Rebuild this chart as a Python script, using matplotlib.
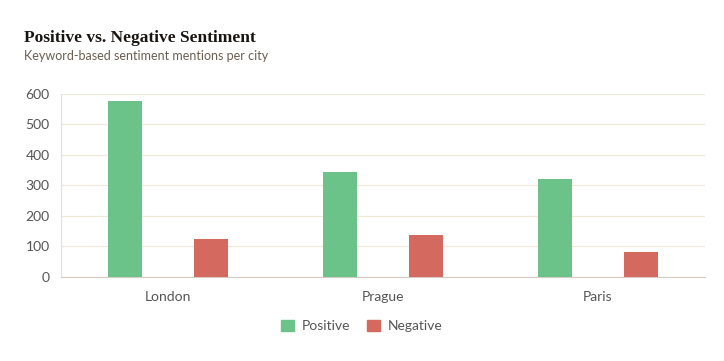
import numpy as np
import matplotlib.pyplot as plt
from matplotlib.patches import Patch

# Datos del gráfico
ciudades = ["London", "Prague", "Paris"]
positivos = [575, 345, 322]
negativos = [123, 138, 82]
y_ticks = [0, 100, 200, 300, 400, 500, 600]

verde = "#6cc38a"
rojo = "#d4695f"

fig = plt.figure(figsize=(7.24, 3.61), dpi=100)
ax = fig.add_axes([0.084, 0.233, 0.890, 0.507])

x = np.arange(len(ciudades))
ancho = 0.16
ax.bar(x - 0.2, positivos, width=ancho, color=verde, zorder=3)
ax.bar(x + 0.2, negativos, width=ancho, color=rojo, zorder=3)

ax.set_xlim(-0.5, 2.5)
ax.set_ylim(0, 600)
ax.set_yticks(y_ticks)
ax.set_xticks(x)
ax.set_xticklabels(ciudades)

# Estilo de ejes
ax.grid(axis="y", color="#f2e8d8", linewidth=0.9, zorder=0)
for lado in ["top", "right"]:
    ax.spines[lado].set_visible(False)
ax.spines["left"].set_color("#e4e0dc")
ax.spines["bottom"].set_color("#d6cac3")
ax.tick_params(axis="both", length=0, labelsize=10, labelcolor="#555555")
ax.tick_params(axis="x", pad=10)
ax.tick_params(axis="y", pad=8)
for t in ax.get_xticklabels() + ax.get_yticklabels():
    t.set_fontfamily("Lato")

# Título y subtítulo
fig.text(0.033, 0.885, "Positive vs. Negative Sentiment", fontsize=12.5,
         fontweight="bold", family="Liberation Serif", color="#1a1410")
fig.text(0.033, 0.835, "Keyword-based sentiment mentions per city",
         fontsize=9, family="Lato", color="#6b5d50", va="baseline")

# Leyenda
handles = [Patch(color=verde, label="Positive"), Patch(color=rojo, label="Negative")]
leg = fig.legend(handles=handles, loc="center", bbox_to_anchor=(0.5, 0.097),
                 ncol=2, frameon=False, handlelength=0.9, handleheight=0.9,
                 columnspacing=1.2, handletextpad=0.6,
                 prop={"family": "Lato", "size": 10})
for t in leg.get_texts():
    t.set_color("#555555")

fig.savefig("out.png", dpi=100)
